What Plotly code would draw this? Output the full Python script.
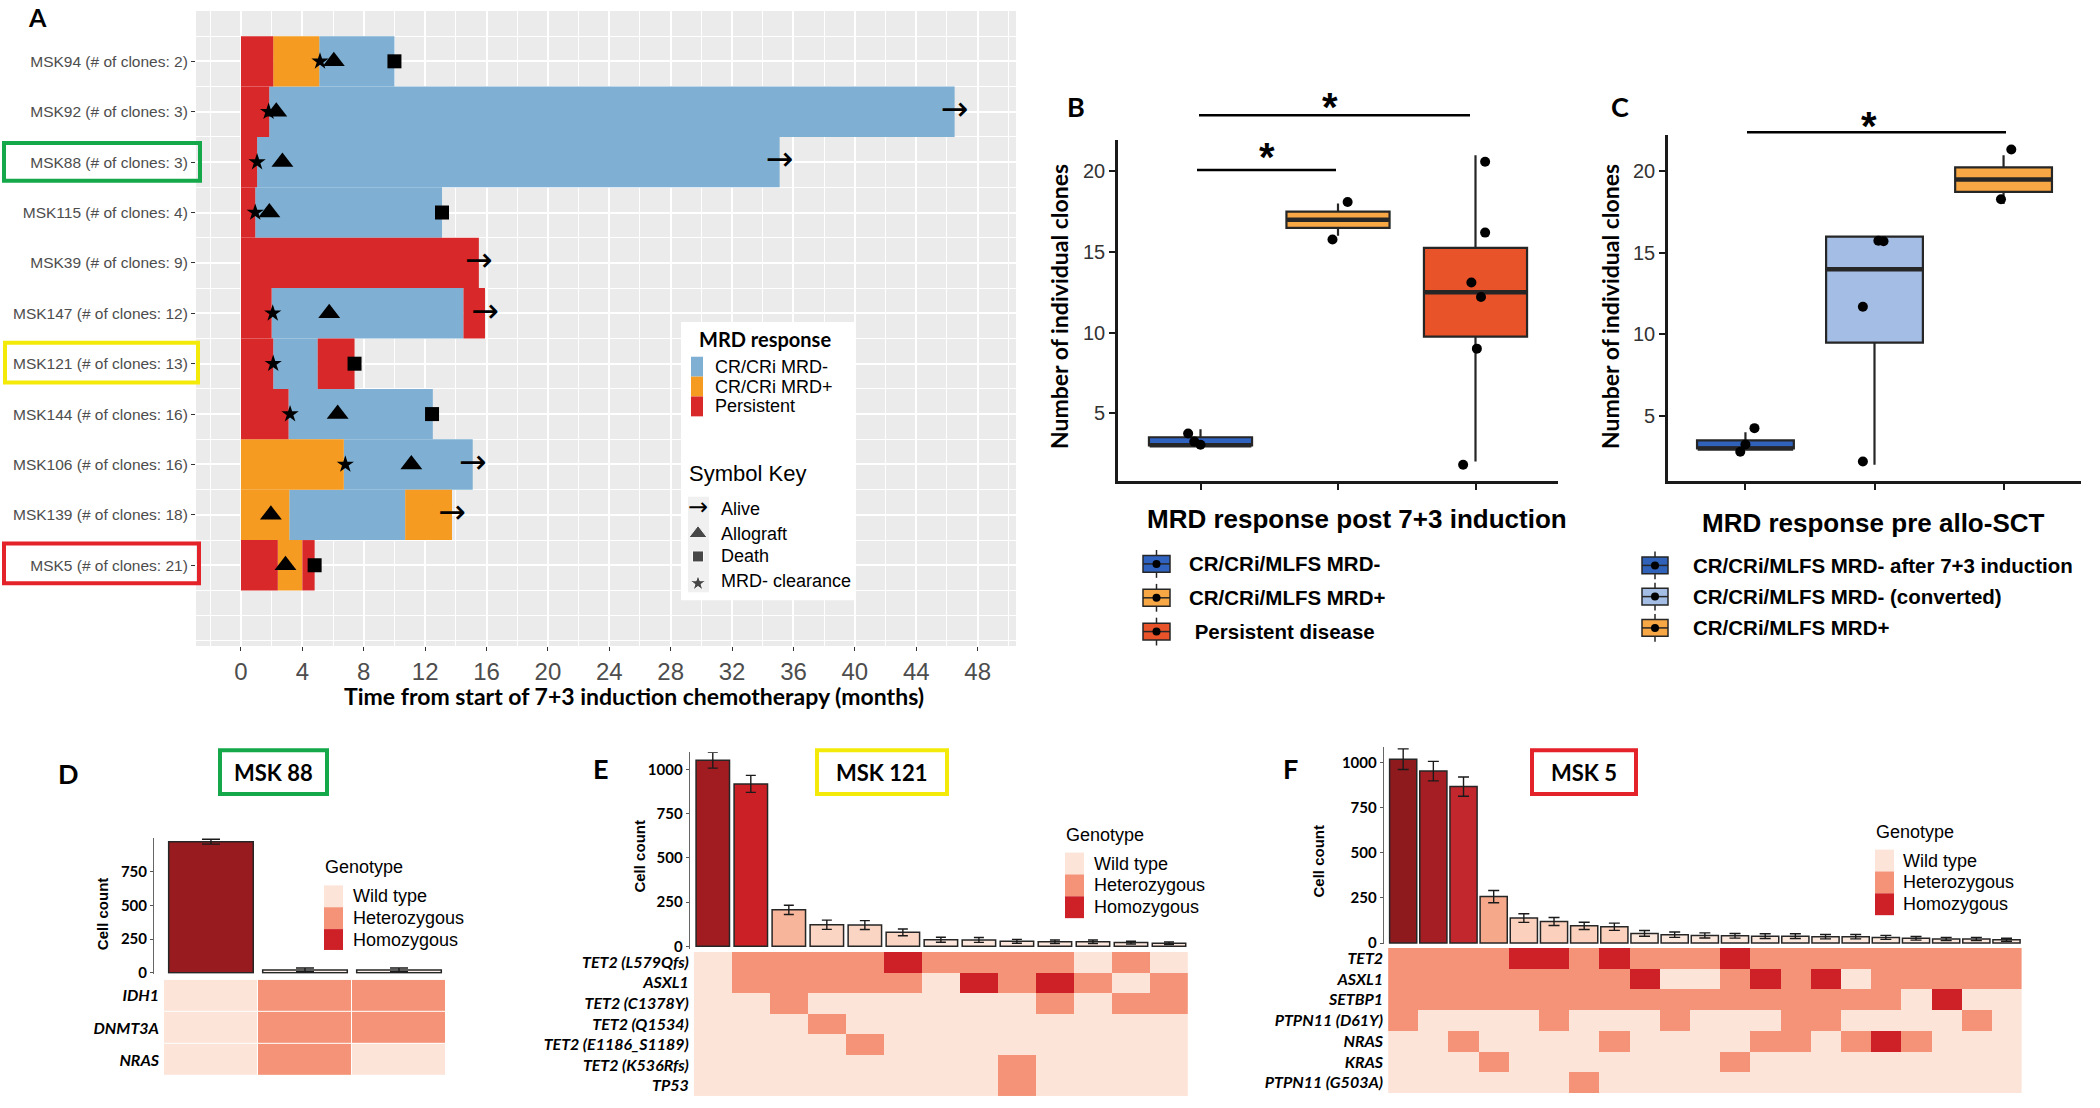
import plotly.graph_objects as go

W, H = 2100, 1108
SANS = "Liberation Sans, Arial, sans-serif"
CAL = "Lato, Open Sans, sans-serif"
ARROWFONT = "DejaVu Sans, sans-serif"


def dom_x(a, b):
    return [a / W, b / W]


def dom_y(top, bottom):
    return [1 - bottom / H, 1 - top / H]


# ---------------- Panel A data ----------------
a_patients = ["MSK94", "MSK92", "MSK88", "MSK115", "MSK39", "MSK147",
              "MSK121", "MSK144", "MSK106", "MSK139", "MSK5"]
a_clones = [2, 3, 3, 4, 9, 12, 13, 16, 16, 18, 21]

seg_patient = (["MSK94"] * 3 + ["MSK92"] * 2 + ["MSK88"] * 2 + ["MSK115"] * 2 +
               ["MSK39"] + ["MSK147"] * 3 + ["MSK121"] * 3 + ["MSK144"] * 2 +
               ["MSK106"] * 2 + ["MSK139"] * 3 + ["MSK5"] * 3)
seg_status = ["Persistent", "CR/CRi MRD+", "CR/CRi MRD-",
              "Persistent", "CR/CRi MRD-",
              "Persistent", "CR/CRi MRD-",
              "Persistent", "CR/CRi MRD-",
              "Persistent",
              "Persistent", "CR/CRi MRD-", "Persistent",
              "Persistent", "CR/CRi MRD-", "Persistent",
              "Persistent", "CR/CRi MRD-",
              "CR/CRi MRD+", "CR/CRi MRD-",
              "CR/CRi MRD+", "CR/CRi MRD-", "CR/CRi MRD+",
              "Persistent", "CR/CRi MRD+", "Persistent"]
seg_end = [2.1, 5.1, 10.0,
           1.84, 46.5,
           1.05, 35.1,
           0.93, 13.1,
           15.5,
           2.0, 14.5, 15.9,
           2.1, 5.0, 7.4,
           3.1, 12.5,
           6.7, 15.1,
           3.15, 10.7, 13.75,
           2.4, 4.0, 4.8]

ev_patient = ["MSK94", "MSK94", "MSK94",
              "MSK92", "MSK92", "MSK92",
              "MSK88", "MSK88", "MSK88",
              "MSK115", "MSK115", "MSK115",
              "MSK39",
              "MSK147", "MSK147", "MSK147",
              "MSK121", "MSK121",
              "MSK144", "MSK144", "MSK144",
              "MSK106", "MSK106", "MSK106",
              "MSK139", "MSK139",
              "MSK5", "MSK5"]
ev_type = ["MRD- clearance", "Allograft", "Death",
           "MRD- clearance", "Allograft", "Alive",
           "MRD- clearance", "Allograft", "Alive",
           "MRD- clearance", "Allograft", "Death",
           "Alive",
           "MRD- clearance", "Allograft", "Alive",
           "MRD- clearance", "Death",
           "MRD- clearance", "Allograft", "Death",
           "MRD- clearance", "Allograft", "Alive",
           "Allograft", "Alive",
           "Allograft", "Death"]
ev_time = [5.15, 6.05, 10.0,
           1.8, 2.3, 46.5,
           1.05, 2.7, 35.1,
           0.93, 1.85, 13.1,
           15.5,
           2.07, 5.75, 15.9,
           2.1, 7.4,
           3.2, 6.3, 12.45,
           6.8, 11.1, 15.1,
           1.95, 13.75,
           2.9, 4.8]
a_xticks = list(range(0, 49, 4))

# ---------------- Panel B / C data ----------------
b_groups = ["CR/CRi/MLFS MRD-", "CR/CRi/MLFS MRD+", " Persistent disease"]
b_q1 = [3.0, 16.5, 9.75]
b_med = [3.0, 17.0, 12.5]
b_q3 = [3.5, 17.5, 15.25]
b_lo = [3.0, 16.0, 2.0]
b_hi = [4.0, 18.0, 21.0]
b_pt_x = [0.91, 0.955, 1.0, 2.07, 1.96, 3.07, 3.07, 2.97, 3.04, 3.01, 2.91]
b_pt_y = [3.73, 3.23, 3.04, 18.1, 15.77, 20.6, 16.2, 13.1, 12.2, 9.0, 1.8]

c_groups = ["CR/CRi/MLFS MRD- after 7+3 induction", "CR/CRi/MLFS MRD- (converted)",
            "CR/CRi/MLFS MRD+"]
c_q1 = [3.0, 9.5, 18.75]
c_med = [3.0, 14.0, 19.5]
c_q3 = [3.5, 16.0, 20.25]
c_lo = [3.0, 2.0, 18.0]
c_hi = [4.0, 16.0, 21.0]
c_pt_x = [1.07, 1.0, 0.96, 2.03, 2.07, 1.91, 1.91, 3.06, 2.98]
c_pt_y = [4.25, 3.25, 2.8, 15.75, 15.72, 11.7, 2.2, 21.35, 18.3]
bc_yticks = [5, 10, 15, 20]

# ---------------- Panel D / E / F data ----------------
geno_labels = ["Wild type", "Heterozygous", "Homozygous"]
cell_ticks = [0, 250, 500, 750, 1000]

d_counts = [970, 22, 22]
d_err = [18, 14, 14]
d_genes = ["IDH1", "DNMT3A", "NRAS"]
d_idh1 = [0, 1, 1]
d_dnmt3a = [0, 1, 1]
d_nras = [0, 1, 0]

e_counts = [1052, 918, 206, 122, 120, 79, 37, 36, 28, 26, 26, 21, 17]
e_err = [45, 48, 26, 26, 25, 19, 14, 14, 11, 10, 10, 8, 7]
e_genes = ["TET2 (L579Qfs)", "ASXL1", "TET2 (C1378Y)", "TET2 (Q1534)",
           "TET2 (E1186_S1189)", "TET2 (K536Rfs)", "TP53"]
e_tet2_l579 = [0, 1, 1, 1, 1, 2, 1, 1, 1, 1, 0, 1, 0]
e_asxl1 = [0, 1, 1, 1, 1, 1, 0, 2, 1, 2, 1, 0, 1]
e_tet2_c1378 = [0, 0, 1, 0, 0, 0, 0, 0, 0, 1, 0, 1, 1]
e_tet2_q1534 = [0, 0, 0, 1, 0, 0, 0, 0, 0, 0, 0, 0, 0]
e_tet2_e1186 = [0, 0, 0, 0, 1, 0, 0, 0, 0, 0, 0, 0, 0]
e_tet2_k536 = [0, 0, 0, 0, 0, 0, 0, 0, 1, 0, 0, 0, 0]
e_tp53 = [0, 0, 0, 0, 0, 0, 0, 0, 1, 0, 0, 0, 0]

f_counts = [1018, 952, 866, 257, 138, 119, 95, 90, 53, 46, 42, 40, 38, 38, 35, 35, 31, 26, 22, 22, 18]
f_err = [57, 54, 53, 34, 24, 22, 20, 20, 16, 15, 14, 13, 13, 13, 12, 12, 11, 10, 9, 9, 8]
f_genes = ["TET2", "ASXL1", "SETBP1", "PTPN11 (D61Y)", "NRAS", "KRAS", "PTPN11 (G503A)"]
f_tet2 = [1, 1, 1, 1, 2, 2, 1, 2, 1, 1, 1, 2, 1, 1, 1, 1, 1, 1, 1, 1, 1]
f_asxl1 = [1, 1, 1, 1, 1, 1, 1, 1, 2, 0, 0, 1, 2, 1, 2, 0, 1, 1, 1, 1, 1]
f_setbp1 = [1, 1, 1, 1, 1, 1, 1, 1, 1, 1, 1, 1, 1, 1, 1, 1, 1, 0, 2, 0, 0]
f_ptpn11_d61y = [1, 0, 0, 0, 0, 1, 0, 0, 0, 1, 0, 0, 0, 1, 1, 0, 0, 0, 0, 1, 0]
f_nras = [0, 0, 1, 0, 0, 0, 0, 1, 0, 0, 0, 0, 1, 1, 0, 1, 2, 1, 0, 0, 0]
f_kras = [0, 0, 0, 1, 0, 0, 0, 0, 0, 0, 0, 1, 0, 0, 0, 0, 0, 0, 0, 0, 0]
f_ptpn11_g503a = [0, 0, 0, 0, 0, 0, 1, 0, 0, 0, 0, 0, 0, 0, 0, 0, 0, 0, 0, 0, 0]

# ---------------- styles ----------------
STATUS_COLORS = {"CR/CRi MRD-": "#7fb0d3", "CR/CRi MRD+": "#f59b22", "Persistent": "#d9282a"}
B_COLORS = ["#3062c0", "#f8a745", "#e8532a"]
C_COLORS = ["#2f62b8", "#a3bde4", "#f8a745"]
GENO_COLORS = ["#fde4d9", "#f49377", "#cd2027"]
d_bar_colors = ["#981b1f", "#fdf0ea", "#fdf0ea"]
e_bar_colors = ["#a01c21", "#cc2027", "#f7b59b", "#fbd5c3", "#fbd5c3", "#fbd5c3"] + ["#fde7dd"] * 7
f_bar_colors = ["#8f1a1e", "#a51e23", "#c1272d", "#f5a98a"] + ["#fbd0bd"] * 4 + ["#fde8de"] * 13

fig = go.Figure()
annotations = []
shapes = []


def ann(x, y, text, size, family=SANS, color="black", bold=False, italic=False,
        xanchor="center", yanchor="middle", angle=0):
    annotations.append(dict(
        x=x / W, y=1 - y / H, xref="paper", yref="paper", text=text, showarrow=False,
        font=dict(size=size, family=family, color=color,
                  weight="bold" if bold else "normal",
                  style="italic" if italic else "normal"),
        xanchor=xanchor, yanchor=yanchor, textangle=angle))


def rect(x0, y0, x1, y1, fill=None, line=None, lw=0, layer="above"):
    shapes.append(dict(type="rect", xref="paper", yref="paper",
                       x0=x0 / W, x1=x1 / W, y0=1 - y0 / H, y1=1 - y1 / H,
                       fillcolor=fill if fill else "rgba(0,0,0,0)",
                       line=dict(color=line if line else "rgba(0,0,0,0)", width=lw),
                       layer=layer))


def hline(x0, x1, y, color="black", lw=2.5, layer="above"):
    shapes.append(dict(type="line", xref="paper", yref="paper",
                       x0=x0 / W, x1=x1 / W, y0=1 - y / H, y1=1 - y / H,
                       line=dict(color=color, width=lw), layer=layer))


def vline(x, y0, y1, color="black", lw=2.5, layer="above"):
    shapes.append(dict(type="line", xref="paper", yref="paper",
                       x0=x / W, x1=x / W, y0=1 - y0 / H, y1=1 - y1 / H,
                       line=dict(color=color, width=lw), layer=layer))


# ================= Panel A =================
pos = {p: len(a_patients) - i for i, p in enumerate(a_patients)}
starts = []
prev = {}
for p, e in zip(seg_patient, seg_end):
    starts.append(prev.get(p, 0.0))
    prev[p] = e

for status in ["CR/CRi MRD-", "CR/CRi MRD+", "Persistent"]:
    idx = [i for i, s in enumerate(seg_status) if s == status]
    fig.add_trace(go.Bar(
        orientation="h",
        y=[pos[seg_patient[i]] for i in idx],
        x=[seg_end[i] - starts[i] for i in idx],
        base=[starts[i] for i in idx],
        width=1.0, marker=dict(color=STATUS_COLORS[status], line=dict(width=0)),
        xaxis="x", yaxis="y", hoverinfo="skip"))

sym = {"Allograft": ("triangle-up", 19), "Death": ("square", 14), "MRD- clearance": ("star", 13)}
for t, (s, sz) in sym.items():
    idx = [i for i, v in enumerate(ev_type) if v == t]
    fig.add_trace(go.Scatter(
        x=[ev_time[i] for i in idx], y=[pos[ev_patient[i]] for i in idx],
        mode="markers", marker=dict(symbol=s, size=sz, color="black", line=dict(width=0)),
        xaxis="x", yaxis="y", hoverinfo="skip"))
idx = [i for i, v in enumerate(ev_type) if v == "Alive"]
fig.add_trace(go.Scatter(
    x=[ev_time[i] for i in idx], y=[pos[ev_patient[i]] for i in idx],
    mode="text", text=["\u2192"] * len(idx), textposition="middle center",
    textfont=dict(size=33, family=ARROWFONT, color="black"),
    xaxis="x", yaxis="y", hoverinfo="skip"))

rect(196, 11, 1016, 650, fill="#ebebeb", layer="below")

# ================= Panel B / C boxes =================
def add_boxes(groups, q1, med, q3, lo, hi, colors, xa, ya):
    for i in range(len(groups)):
        fig.add_trace(go.Box(
            x=[i + 1], q1=[q1[i]], median=[med[i]], q3=[q3[i]],
            lowerfence=[lo[i]], upperfence=[hi[i]],
            width=0.75, whiskerwidth=0, fillcolor=colors[i],
            line=dict(color="#262626", width=2.2), boxpoints=False,
            xaxis=xa, yaxis=ya, hoverinfo="skip"))
        fig.add_trace(go.Scatter(
            x=[i + 1 - 0.37, i + 1 + 0.37], y=[med[i], med[i]], mode="lines",
            line=dict(color="#262626", width=4.5), xaxis=xa, yaxis=ya, hoverinfo="skip"))


add_boxes(b_groups, b_q1, b_med, b_q3, b_lo, b_hi, B_COLORS, "x2", "y2")
fig.add_trace(go.Scatter(x=b_pt_x, y=b_pt_y, mode="markers",
                         marker=dict(size=10, color="black"), xaxis="x2", yaxis="y2",
                         hoverinfo="skip"))
add_boxes(c_groups, c_q1, c_med, c_q3, c_lo, c_hi, C_COLORS, "x3", "y3")
fig.add_trace(go.Scatter(x=c_pt_x, y=c_pt_y, mode="markers",
                         marker=dict(size=10, color="black"), xaxis="x3", yaxis="y3",
                         hoverinfo="skip"))

# ================= Panel D / E / F =================
def add_cells(counts, err, colors, rows, names, xb, yb, xh, yh, cap, gap, bw):
    n = len(counts)
    fig.add_trace(go.Bar(
        x=list(range(1, n + 1)), y=counts, width=bw,
        marker=dict(color=colors, line=dict(color="#262626", width=1.5)),
        error_y=dict(type="data", array=err, color="#1a1a1a", thickness=1.4, width=cap),
        xaxis=xb, yaxis=yb, hoverinfo="skip"))
    fig.add_trace(go.Heatmap(
        z=rows, x=list(range(1, n + 1)), y=names, zmin=0, zmax=2,
        colorscale=[[0, GENO_COLORS[0]], [0.333, GENO_COLORS[0]],
                    [0.333, GENO_COLORS[1]], [0.667, GENO_COLORS[1]],
                    [0.667, GENO_COLORS[2]], [1, GENO_COLORS[2]]],
        showscale=False, xgap=gap, ygap=gap, xaxis=xh, yaxis=yh, hoverinfo="skip"))


add_cells(d_counts, d_err, d_bar_colors, [d_idh1, d_dnmt3a, d_nras], d_genes,
          "x4", "y4", "x5", "y5", 9, 1, 0.9)
add_cells(e_counts, e_err, e_bar_colors,
          [e_tet2_l579, e_asxl1, e_tet2_c1378, e_tet2_q1534, e_tet2_e1186, e_tet2_k536, e_tp53],
          e_genes, "x6", "y6", "x7", "y7", 5, 0, 0.88)
add_cells(f_counts, f_err, f_bar_colors,
          [f_tet2, f_asxl1, f_setbp1, f_ptpn11_d61y, f_nras, f_kras, f_ptpn11_g503a],
          f_genes, "x8", "y8", "x9", "y9", 5.5, 0, 0.9)

# ================= legend keys on a pixel overlay axis =================
def poly_fill(x0, y0, x1, y1, color):
    fig.add_trace(go.Scatter(x=[x0, x1, x1, x0, x0], y=[y0, y0, y1, y1, y0],
                             mode="lines", fill="toself", fillcolor=color,
                             line=dict(width=0, color=color),
                             xaxis="x10", yaxis="y10", hoverinfo="skip"))


poly_fill(681, 324, 856, 604, "white")
poly_fill(688, 500, 709, 596, "#f0f0f0")
fig.add_trace(go.Scatter(x=[698, 698, 698], y=[537, 560, 587], mode="markers",
                         marker=dict(symbol=["triangle-up", "square", "star"], size=[16, 11, 12],
                                     color="black"),
                         xaxis="x10", yaxis="y10", hoverinfo="skip"))
fig.add_trace(go.Scatter(x=[698], y=[512], mode="text", text=["\u2192"],
                         textfont=dict(size=24, family=ARROWFONT, color="black"),
                         xaxis="x10", yaxis="y10", hoverinfo="skip"))
B_LEG_X, B_LEG_Y = (1143, 1170), [567.5, 601.6, 635.6]
C_LEG_X, C_LEG_Y = (1642, 1668), [569, 600.4, 631.9]
for (xa, xb), ys in [(B_LEG_X, B_LEG_Y), (C_LEG_X, C_LEG_Y)]:
    fig.add_trace(go.Scatter(x=[(xa + xb) / 2] * 3, y=ys, mode="markers",
                             marker=dict(size=8, color="black"),
                             xaxis="x10", yaxis="y10", hoverinfo="skip"))

# ================= decorations =================
# Panel A legend
ann(697, 341, "MRD response", 20, family=CAL, bold=True, xanchor="left")
for k, (status, yc) in enumerate([("CR/CRi MRD-", 369), ("CR/CRi MRD+", 389), ("Persistent", 409)]):
    rect(691, yc - 10, 703, yc + 10, fill=STATUS_COLORS[status])
    ann(713, yc, status, 18, xanchor="left")
ann(687, 477, "Symbol Key", 22, xanchor="left")
for lab, yc in [("Alive", 512), ("Allograft", 537), ("Death", 560), ("MRD- clearance", 585)]:
    ann(719, yc, lab, 18, xanchor="left")
ann(634, 700, "Time from start of 7+3 induction chemotherapy (months)", 23, family=CAL, bold=True)
ann(37, 17, "A", 25, family=CAL, bold=True)
rect(4, 144, 200, 182, line="#15a84a", lw=4)
rect(5, 345, 198, 385, line="#f3ea0a", lw=4)
rect(4, 547, 199, 587, line="#e42229", lw=4)


def box_legend(xr, ys, colors, labels, tx):
    xa, xb = xr
    for k, yc in enumerate(ys):
        vline((xa + xb) / 2, yc - 14, yc + 14, color="#262626", lw=1.5, layer="below")
        rect(xa, yc - 8.5, xb, yc + 8.5, fill=colors[k], line="#262626", lw=1.5, layer="below")
        hline(xa, xb, yc, color="#262626", lw=1.5, layer="below")
        ann(tx, yc, labels[k], 20.5, bold=True, xanchor="left")


# Panel B decorations
ann(1076, 107, "B", 27, family=CAL, bold=True)
hline(1199, 1470, 116)
ann(1330, 108, "*", 40, bold=True)
hline(1197, 1336, 171)
ann(1267, 158, "*", 40, bold=True)
ann(1059, 309, "Number of individual clones", 23, family=CAL, bold=True, angle=-90)
ann(1357, 522, "MRD response post 7+3 induction", 26, bold=True)
box_legend(B_LEG_X, B_LEG_Y, B_COLORS, b_groups, 1187)

# Panel C decorations
ann(1620, 107, "C", 27, family=CAL, bold=True)
hline(1747, 2006, 133)
ann(1869, 127, "*", 40, bold=True)
ann(1610, 309, "Number of individual clones", 23, family=CAL, bold=True, angle=-90)
ann(1873, 526, "MRD response pre allo-SCT", 26, bold=True)
box_legend(C_LEG_X, C_LEG_Y, C_COLORS, c_groups, 1691)

# Panel D/E/F decorations
ann(68, 778, "D", 27, family=CAL, bold=True)
ann(601, 773, "E", 27, family=CAL, bold=True)
ann(1290, 773, "F", 27, family=CAL, bold=True)
rect(220, 755, 327, 799, line="#15a84a", lw=4)
ann(273, 777, "MSK 88", 22, family=CAL, bold=True)
rect(817, 755, 947, 799, line="#f3ea0a", lw=4)
ann(882, 777, "MSK 121", 22, family=CAL, bold=True)
rect(1532, 755, 1636, 799, line="#e42229", lw=4)
ann(1584, 777, "MSK 5", 22, family=CAL, bold=True)
ann(102, 920, "Cell count", 15, bold=True, angle=-90)
ann(640, 862, "Cell count", 15, bold=True, angle=-90)
ann(1319, 866, "Cell count", 15, bold=True, angle=-90)

for (gx, gy, sw, tx, rows_y) in [
        (324, 873, 19, 353, [(891, 913), (913, 935), (935, 956)]),
        (1065, 840, 19, 1094, [(858, 880), (880, 902), (902, 924)]),
        (1875, 837, 19, 1903, [(855, 877), (877, 899), (899, 921)])]:
    ann(gx - 1, gy, "Genotype", 18, xanchor="left")
    for k, (y0, y1) in enumerate(rows_y):
        rect(gx, y0, gx + sw, y1, fill=GENO_COLORS[k])
        ann(tx - 2, (y0 + y1) / 2, geno_labels[k], 18, xanchor="left")

# ================= axes =================
AX_HIDDEN = dict(visible=False, showgrid=False, zeroline=False)
layout_axes = {}

layout_axes["xaxis"] = dict(
    domain=dom_x(196, 1016), range=[-2.93, 50.5], anchor="y",
    tickmode="array", tickvals=a_xticks, ticks="outside", ticklen=4, tickcolor="#333",
    tickfont=dict(size=24, family=SANS, color="#4d4d4d"),
    showgrid=True, gridcolor="white", gridwidth=1.6, zeroline=False, showline=False,
    minor=dict(tickmode="array", tickvals=list(range(-2, 51, 4)), showgrid=True,
               gridcolor="white", gridwidth=0.9, ticks=""))
layout_axes["yaxis"] = dict(
    domain=dom_y(11, 650), range=[-0.6, 12.0], anchor="x",
    tickmode="array", tickvals=[pos[p] for p in a_patients],
    ticktext=[f"{p} (# of clones: {c})" for p, c in zip(a_patients, a_clones)],
    ticks="outside", ticklen=4, tickcolor="#333",
    tickfont=dict(size=15.5, family=SANS, color="#4d4d4d"),
    showgrid=True, gridcolor="white", gridwidth=1.6, zeroline=False, showline=False,
    minor=dict(tickmode="array", tickvals=[v / 2 for v in range(-1, 25, 1) if v % 2 != 0 or v == 0 or v == 24],
               showgrid=True, gridcolor="white", gridwidth=0.9, ticks=""))


def box_axes(xd, yd, yr, xn, yn):
    layout_axes[xn[0]] = dict(domain=xd, range=[0.4, 3.6], anchor=yn[1],
                              tickmode="array", tickvals=[1, 2, 3], showticklabels=False,
                              ticks="outside", ticklen=6, tickwidth=2, tickcolor="#1a1a1a",
                              showline=True, linecolor="#1a1a1a", linewidth=2.6,
                              showgrid=False, zeroline=False)
    layout_axes[yn[0]] = dict(domain=yd, range=yr, anchor=xn[1],
                              tickmode="array", tickvals=bc_yticks,
                              ticks="outside", ticklen=6, tickwidth=2, tickcolor="#1a1a1a",
                              tickfont=dict(size=20, family=SANS, color="#333"),
                              showline=True, linecolor="#1a1a1a", linewidth=2.6,
                              showgrid=False, zeroline=False)


box_axes(dom_x(1118, 1558), dom_y(141, 484), [0.79, 21.94], ("xaxis2", "x2"), ("yaxis2", "y2"))
box_axes(dom_x(1668, 2081), dom_y(135.5, 484), [1.01, 22.26], ("xaxis3", "x3"), ("yaxis3", "y3"))


def cell_axes(n, xbar, ybar, xheat, yheat, yr, tickvals, names):
    bx, by, hx, hy = names
    layout_axes["xaxis" + bx] = dict(domain=xbar[0], range=[xbar[1], n + 0.5], anchor="y" + by,
                                     **AX_HIDDEN)
    layout_axes["yaxis" + by] = dict(domain=ybar, range=yr, anchor="x" + bx,
                                     tickmode="array", tickvals=tickvals,
                                     ticks="outside", ticklen=3, tickcolor="#555",
                                     tickfont=dict(size=15, family=CAL, color="black", weight="bold"),
                                     showline=True, linecolor="#666",
                                     linewidth=1, showgrid=False, zeroline=False)
    layout_axes["xaxis" + hx] = dict(domain=xheat, range=[0.5, n + 0.5], anchor="y" + hy,
                                     **AX_HIDDEN)
    layout_axes["yaxis" + hy] = dict(domain=yheat, anchor="x" + hx, autorange="reversed",
                                     ticks="", ticklabelstandoff=4,
                                     tickfont=dict(size=16, family=CAL, color="black",
                                                   weight="bold", style="italic"),
                                     showgrid=False, zeroline=False, showline=False)


cell_axes(3, (dom_x(154, 446), 0.394), dom_y(843, 980), dom_x(164, 446), dom_y(986, 1083),
          [-7, 1000], cell_ticks[:4], ("4", "4", "5", "5"))
cell_axes(13, (dom_x(689.6, 1188), 0.39), dom_y(757, 955), dom_x(693.8, 1188), dom_y(958, 1103),
          [-15, 1097], cell_ticks, ("6", "6", "7", "7"))
cell_axes(21, (dom_x(1383.7, 2021.6), 0.354), dom_y(752, 950), dom_x(1388.1, 2021.6),
          dom_y(954, 1100), [-5.5, 1084], cell_ticks, ("8", "8", "9", "9"))

layout_axes["xaxis10"] = dict(domain=[0, 1], range=[0, W], anchor="y10", **AX_HIDDEN)
layout_axes["yaxis10"] = dict(domain=[0, 1], range=[H, 0], anchor="x10", **AX_HIDDEN)

fig.update_layout(
    width=W, height=H, margin=dict(l=0, r=0, t=0, b=0, pad=0),
    paper_bgcolor="white", plot_bgcolor="rgba(0,0,0,0)",
    showlegend=False, barmode="overlay", boxmode="overlay",
    annotations=annotations, shapes=shapes, **layout_axes)

fig.write_html("out.html", config={"displayModeBar": False},
               post_script="document.body.style.margin='0px';document.body.style.overflow='hidden';")
